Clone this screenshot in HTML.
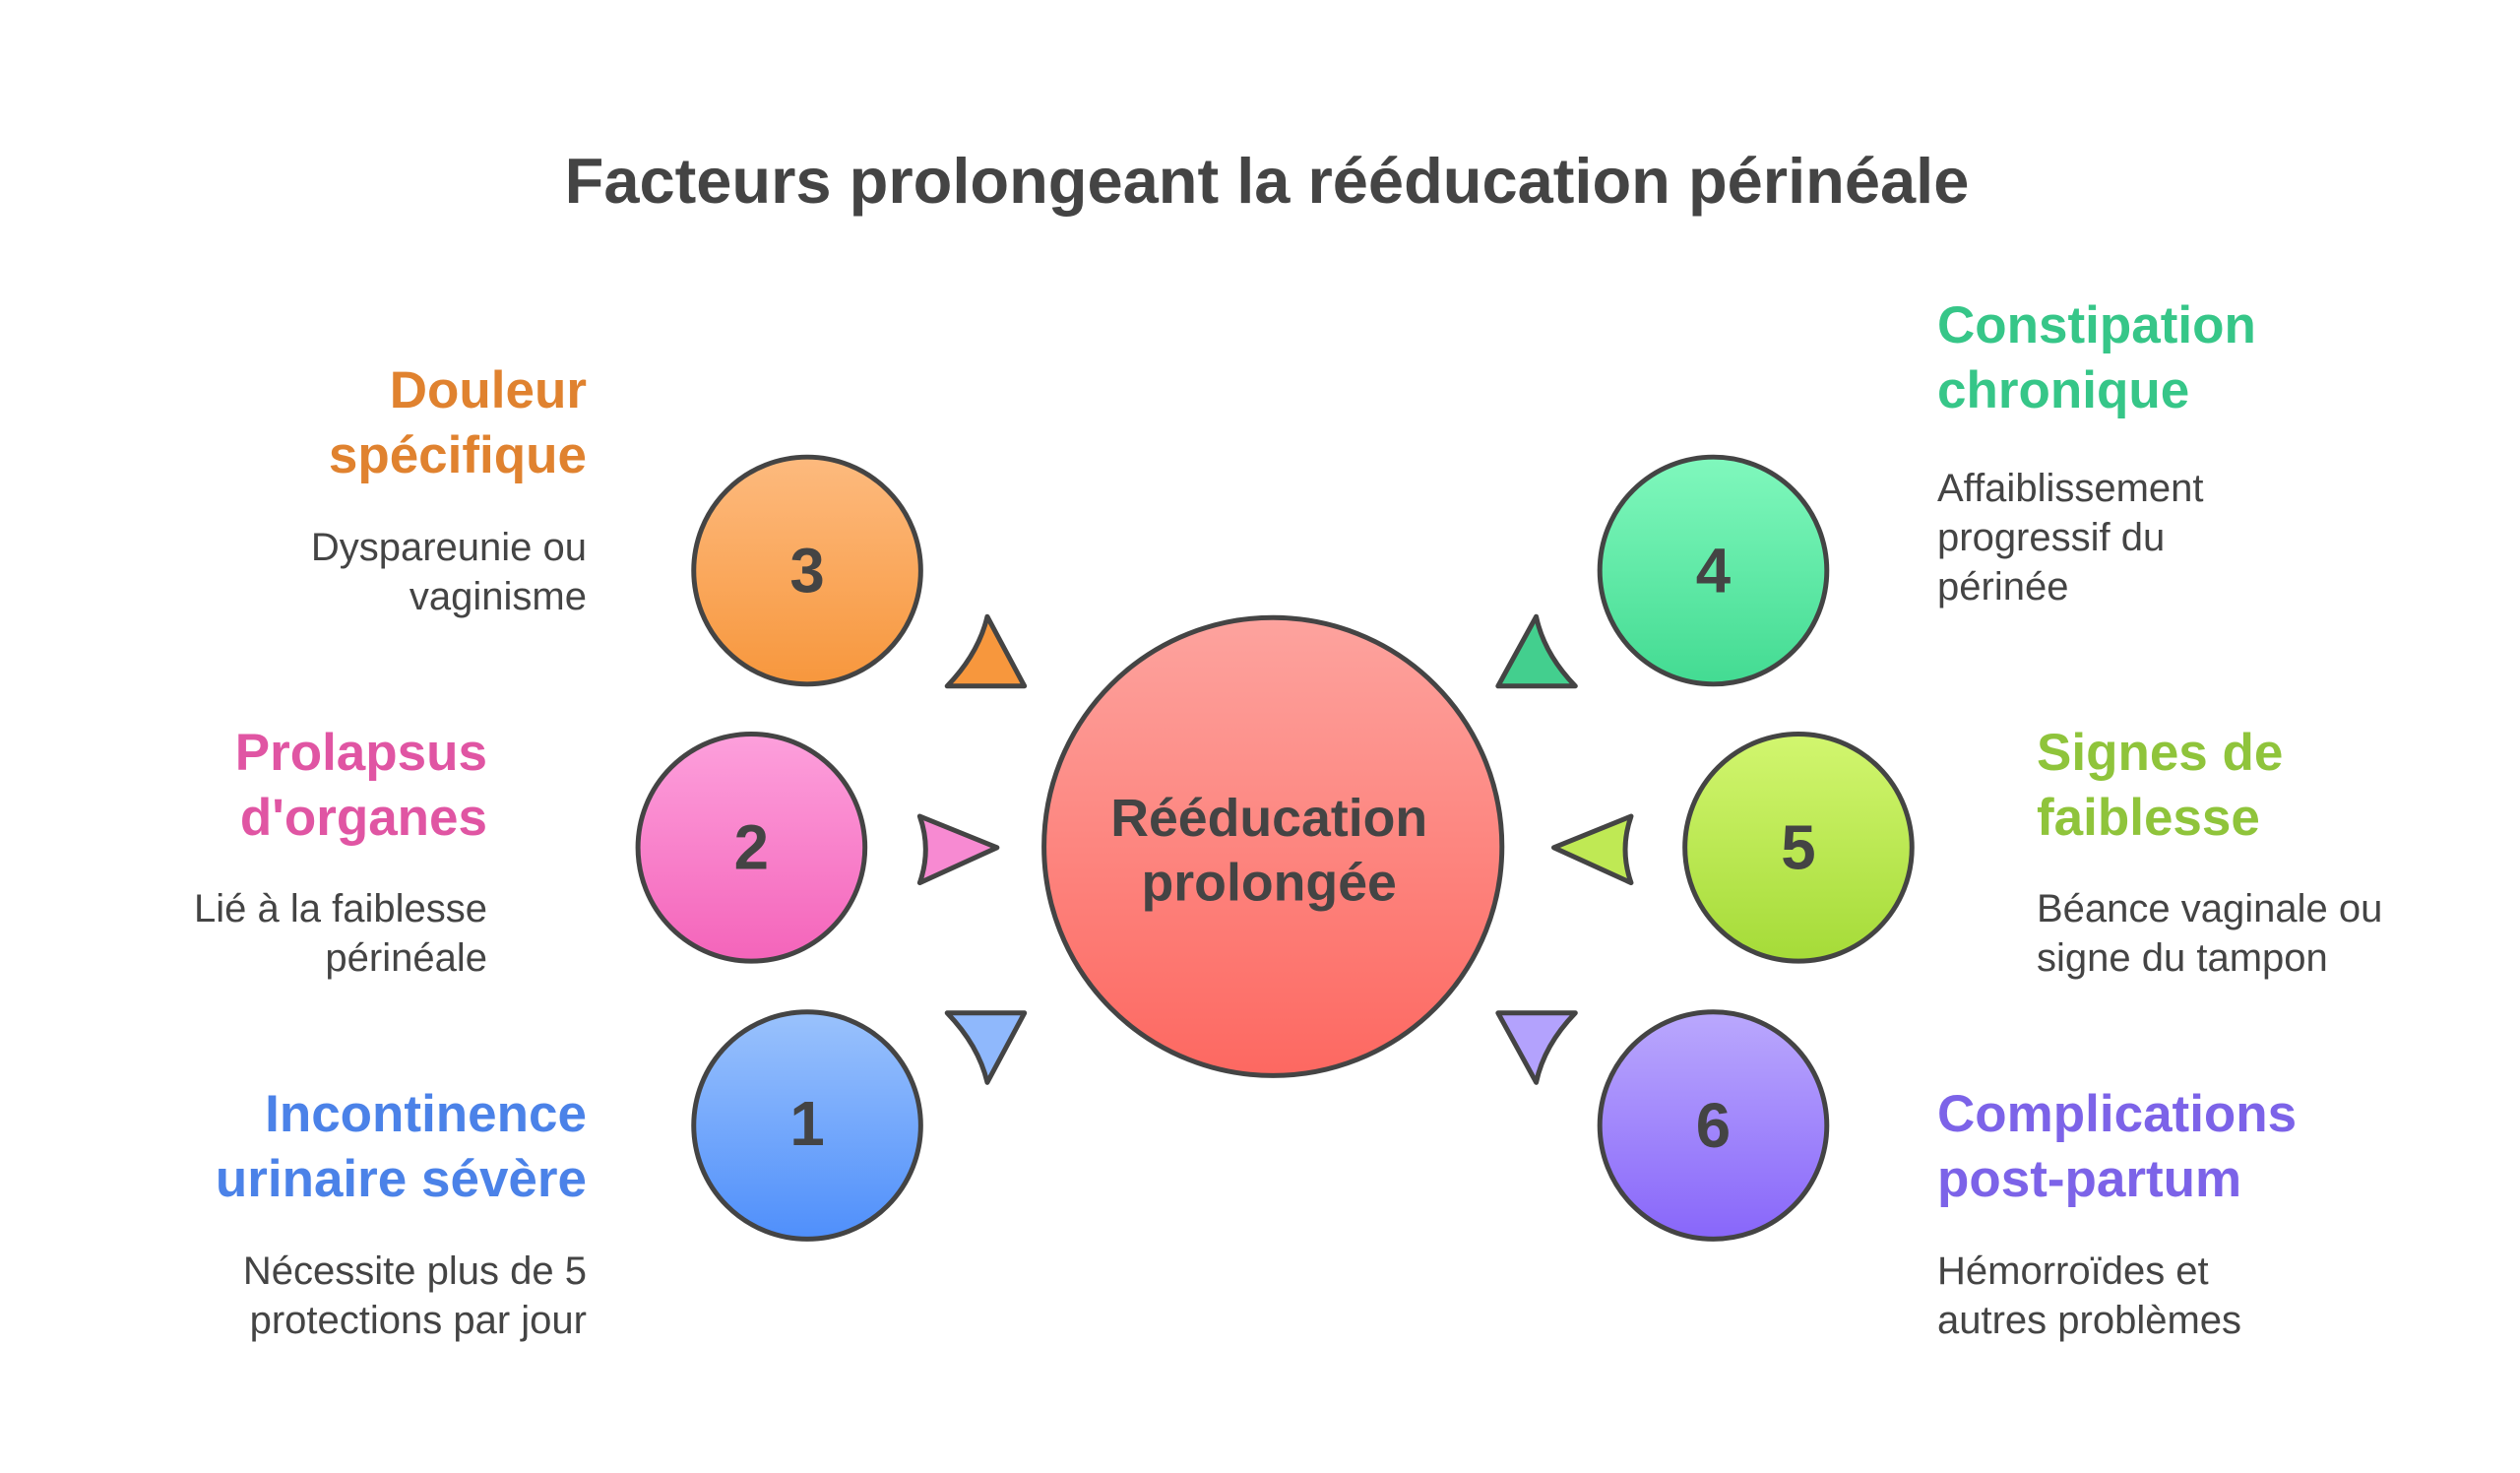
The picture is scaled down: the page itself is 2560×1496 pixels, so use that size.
<!DOCTYPE html>
<html><head><meta charset="utf-8"><style>
html,body{margin:0;padding:0;background:#fff;}
body{width:2560px;height:1496px;position:relative;overflow:hidden;font-family:"Liberation Sans",sans-serif;}
.t{position:absolute;white-space:nowrap;}
.h{font-weight:bold;font-size:53px;line-height:66px;}
.d{font-size:40px;line-height:50px;color:#444;}
.r{text-align:right;}
</style></head><body>
<div class="t" style="left:0;width:2574px;top:146px;text-align:center;font-weight:bold;font-size:65px;color:#444;">Facteurs prolongeant la rééducation périnéale</div>
<svg width="2560" height="1496" style="position:absolute;left:0;top:0">
<defs>
<linearGradient id="g0" x1="0" y1="0" x2="0" y2="1"><stop offset="0" stop-color="#fda39e"/><stop offset="1" stop-color="#fd6861"/></linearGradient>
<linearGradient id="g3" x1="0" y1="0" x2="0" y2="1"><stop offset="0" stop-color="#fdba7e"/><stop offset="1" stop-color="#f7973d"/></linearGradient>
<linearGradient id="g4" x1="0" y1="0" x2="0" y2="1"><stop offset="0" stop-color="#80f8bd"/><stop offset="1" stop-color="#43db92"/></linearGradient>
<linearGradient id="g2" x1="0" y1="0" x2="0" y2="1"><stop offset="0" stop-color="#fda0dc"/><stop offset="1" stop-color="#f464ba"/></linearGradient>
<linearGradient id="g5" x1="0" y1="0" x2="0" y2="1"><stop offset="0" stop-color="#d2f66f"/><stop offset="1" stop-color="#a5db38"/></linearGradient>
<linearGradient id="g1" x1="0" y1="0" x2="0" y2="1"><stop offset="0" stop-color="#9ac2fc"/><stop offset="1" stop-color="#4f8ffb"/></linearGradient>
<linearGradient id="g6" x1="0" y1="0" x2="0" y2="1"><stop offset="0" stop-color="#baa8fd"/><stop offset="1" stop-color="#8866fa"/></linearGradient>
</defs>
<g transform="scale(0.994)">
<g stroke="#444" stroke-width="5" stroke-linejoin="round">
<circle cx="1301" cy="865" r="234" fill="url(#g0)"/>
<circle cx="825" cy="583" r="116" fill="url(#g3)"/>
<circle cx="1751" cy="583" r="116" fill="url(#g4)"/>
<circle cx="768" cy="866" r="116" fill="url(#g2)"/>
<circle cx="1838" cy="866" r="116" fill="url(#g5)"/>
<circle cx="825" cy="1150" r="116" fill="url(#g1)"/>
<circle cx="1751" cy="1150" r="116" fill="url(#g6)"/>
<path d="M968,701 L1047,701 L1009,630 Q1000,668 968,701Z" fill="#f7973d"/>
<path d="M1531,701 L1610,701 Q1578,668 1570,630 Z" fill="#43cf8e"/>
<path d="M968,1035 L1047,1035 L1009,1106 Q1000,1068 968,1035Z" fill="#8fb8fc"/>
<path d="M1531,1035 L1610,1035 Q1578,1068 1570,1106 Z" fill="#b3a2fd"/>
<path d="M940,834 L1019,866 L940,902 Q952,868 940,834Z" fill="#f78ad2"/>
<path d="M1667,834 L1588,866 L1667,902 Q1655,868 1667,834Z" fill="#bfe954"/>
</g>
<g font-family="Liberation Sans, sans-serif" font-weight="bold" fill="#444" text-anchor="middle">
<text x="1297" y="854" font-size="54">Rééducation</text>
<text x="1297" y="920" font-size="54">prolongée</text>
<text x="825" y="605" font-size="64">3</text>
<text x="1751" y="605" font-size="64">4</text>
<text x="768" y="888" font-size="64">2</text>
<text x="1838" y="888" font-size="64">5</text>
<text x="825" y="1170" font-size="64">1</text>
<text x="1751" y="1172" font-size="64">6</text>
</g>
</g>
</svg>
<div class="t h r" style="right:1964px;top:364px;color:#e0822f">Douleur<br>spécifique</div>
<div class="t d r" style="right:1964px;top:531px">Dyspareunie ou<br>vaginisme</div>
<div class="t h r" style="right:2065px;top:732px;color:#e055a3">Prolapsus<br>d'organes</div>
<div class="t d r" style="right:2065px;top:898px">Lié à la faiblesse<br>périnéale</div>
<div class="t h r" style="right:1964px;top:1099px;color:#4b82e8">Incontinence<br>urinaire sévère</div>
<div class="t d r" style="right:1964px;top:1266px">Nécessite plus de 5<br>protections par jour</div>
<div class="t h" style="left:1968px;top:298px;color:#36c688">Constipation<br>chronique</div>
<div class="t d" style="left:1968px;top:471px">Affaiblissement<br>progressif du<br>périnée</div>
<div class="t h" style="left:2069px;top:732px;color:#8fc43b">Signes de<br>faiblesse</div>
<div class="t d" style="left:2069px;top:898px">Béance vaginale ou<br>signe du tampon</div>
<div class="t h" style="left:1968px;top:1099px;color:#7c63e8">Complications<br>post-partum</div>
<div class="t d" style="left:1968px;top:1266px">Hémorroïdes et<br>autres problèmes</div>
</body></html>
